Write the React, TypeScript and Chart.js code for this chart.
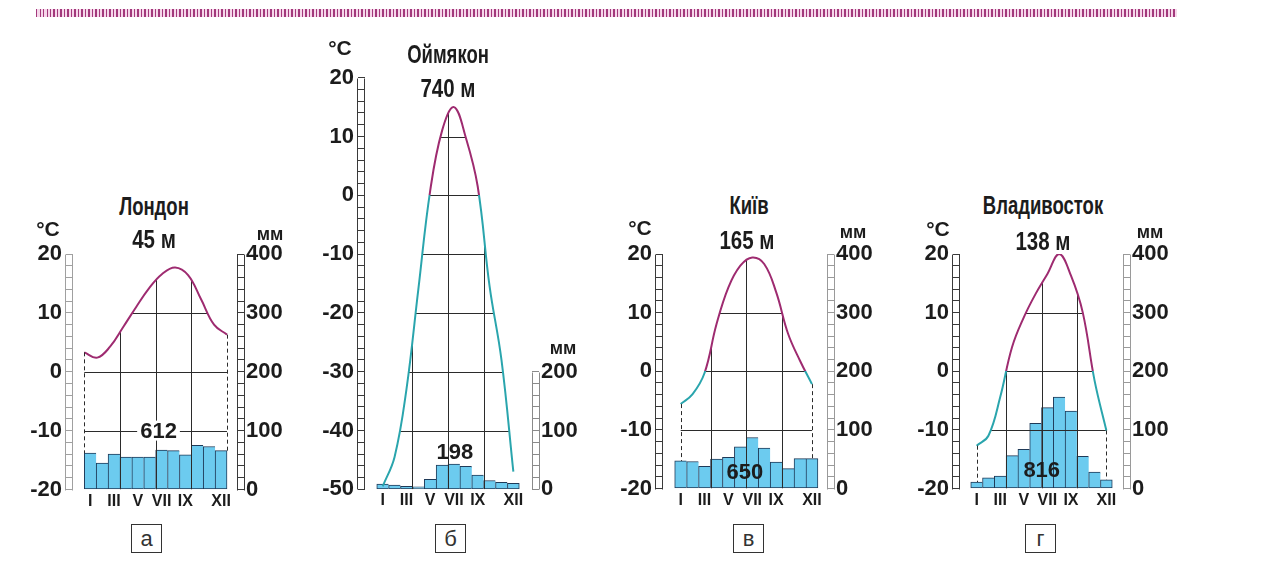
import React, { useEffect, useRef } from "react";
import { Chart, registerables } from "chart.js";

Chart.register(...registerables);

// ---------- data ----------
const MONTH_LABELS = ["I", "II", "III", "IV", "V", "VI", "VII", "VIII", "IX", "X", "XI", "XII"];
const MONTHS = [0, 1, 2, 3, 4, 5, 6, 7, 8, 9, 10, 11];
const LABELED_MONTHS = [0, 2, 4, 6, 8, 11];
const SEASON_BOUNDARIES = [2.5, 5.5, 8.5];

const LONDON_TEMP = [3.3, 2.4, 4.3, 7.6, 11, 14.2, 16.6, 17.7, 16.4, 12.3, 8, 6.3];
const LONDON_PRECIP = [62, 45, 60, 55, 55, 55, 67, 66, 59, 75, 73, 66];

const OYMYAKON_TEMP = [-49.5, -44.5, -33, -16, 0.8, 11, 15, 9.8, 1.5, -15.5, -28, -47];
const OYMYAKON_PRECIP = [9, 7, 5, 4, 17, 41, 43, 39, 24, 15, 12, 10];

const KYIV_TEMP = [-5.6, -3.9, -0.3, 8, 14.3, 18, 19.4, 18.3, 13.5, 6.4, 1.8, -2.2];
const KYIV_PRECIP = [47, 46, 38, 50, 53, 71, 87, 69, 45, 34, 51, 51];

const VLAD_TEMP = [-12.7, -11, -4.4, 4.1, 9.2, 13.2, 16.6, 20, 16.3, 10, -1.6, -10.1];
const VLAD_PRECIP = [11, 18, 21, 56, 67, 111, 138, 156, 132, 55, 28, 15];

// ---------- styles ----------
const FONT_SANS = '"Liberation Sans", Arial, sans-serif';
const TEXT = "#1c1c1c";
const WARM = "#9e2b70";
const COLD = "#2aa5ad";
const BAR_FILL = "#6ccbef";
const BAR_EDGE = "#1f3a58";
const GRID = "#2b2b2b";

type Box = { left: number; top: number; width: number; height: number };
type Station = {
  key: string;
  name: string;
  elevation: string;
  letter: string;
  total: string;
  temp: number[];
  precip: number[];
  tMin: number;
  tMax: number;
  mmLadderMax: number;
  curve: "edges" | "centers";
  dashed: boolean;
  canvas: Box;
  area: { left: number; right: number; top: number; bottom: number };
  padL: number;
  padR: number;
  totalPos: { x: number; t: number; bg: boolean };
  namePos: [number, number];
  elevPos: [number, number];
  degPos: [number, number];
  mmPos: [number, number];
  letterPos: [number, number];
  ladderColors: [string, string];
};

const STATIONS: Station[] = [
  {
    key: "london",
    name: "Лондон",
    elevation: "45 м",
    letter: "а",
    total: "612",
    temp: LONDON_TEMP,
    precip: LONDON_PRECIP,
    tMin: -20,
    tMax: 20,
    mmLadderMax: 400,
    curve: "edges",
    dashed: true,
    canvas: { left: 16, top: 226, width: 294, height: 296 },
    area: { left: 73, right: 237, top: 254, bottom: 489.5 },
    padL: 0.95,
    padR: 0.84,
    totalPos: { x: 5.74, t: -10, bg: true },
    namePos: [154, 206],
    elevPos: [154, 239],
    degPos: [48, 228],
    mmPos: [270, 234],
    letterPos: [147, 539],
    ladderColors: ["#a0a0a0", "#3a3a3a"],
  },
  {
    key: "oymyakon",
    name: "Оймякон",
    elevation: "740 м",
    letter: "б",
    total: "198",
    temp: OYMYAKON_TEMP,
    precip: OYMYAKON_PRECIP,
    tMin: -50,
    tMax: 20,
    mmLadderMax: 200,
    curve: "centers",
    dashed: false,
    canvas: { left: 312, top: 50, width: 290, height: 472 },
    area: { left: 365, right: 532, top: 77.7, bottom: 489.3 },
    padL: 0.99,
    padR: 1.07,
    totalPos: { x: 6.08, t: -43.7, bg: false },
    namePos: [448, 54],
    elevPos: [448, 88],
    degPos: [340, 47],
    mmPos: [563, 348],
    letterPos: [451, 539],
    ladderColors: ["#3a3a3a", "#8a8a8a"],
  },
  {
    key: "kyiv",
    name: "Київ",
    elevation: "165 м",
    letter: "в",
    total: "650",
    temp: KYIV_TEMP,
    precip: KYIV_PRECIP,
    tMin: -20,
    tMax: 20,
    mmLadderMax: 400,
    curve: "centers",
    dashed: true,
    canvas: { left: 606, top: 226, width: 290, height: 296 },
    area: { left: 663, right: 827, top: 254, bottom: 488.5 },
    padL: 0.98,
    padR: 0.76,
    totalPos: { x: 5.38, t: -17.2, bg: false },
    namePos: [749, 205],
    elevPos: [747, 240],
    degPos: [640, 227],
    mmPos: [853, 232],
    letterPos: [749, 539],
    ladderColors: ["#3a3a3a", "#9a9a9a"],
  },
  {
    key: "vladivostok",
    name: "Владивосток",
    elevation: "138 м",
    letter: "г",
    total: "816",
    temp: VLAD_TEMP,
    precip: VLAD_PRECIP,
    tMin: -20,
    tMax: 20,
    mmLadderMax: 400,
    curve: "centers",
    dashed: true,
    canvas: { left: 900, top: 226, width: 300, height: 296 },
    area: { left: 960, right: 1123, top: 254, bottom: 488.5 },
    padL: 0.91,
    padR: 0.91,
    totalPos: { x: 5.52, t: -16.9, bg: false },
    namePos: [1043, 205],
    elevPos: [1043, 241],
    degPos: [938, 228],
    mmPos: [1150, 232],
    letterPos: [1041, 539],
    ladderColors: ["#3a3a3a", "#9a9a9a"],
  },
];

function range(a: number, b: number, step: number): number[] {
  const out: number[] = [];
  for (let v = a; v <= b + 1e-9; v += step) out.push(Math.round(v * 1000) / 1000);
  return out;
}

function ClimateChart({ s }: { s: Station }) {
  const ref = useRef<HTMLCanvasElement>(null);

  useEffect(() => {
    if (!ref.current) return;
    const c = s.canvas;
    const a = s.area;
    const xMin = -0.5 - s.padL;
    const xMax = 11.5 + s.padR;
    const xcMin = s.curve === "edges" ? ((xMin + 0.5) * 11) / 12 : xMin;
    const xcMax = s.curve === "edges" ? ((xMax + 0.5) * 11) / 12 : xMax;
    const mmMax = (s.tMax - s.tMin) * 10;
    const gridTemps = range(s.tMin + 10, s.tMax - 10, 10);

    const decor = {
      id: "climateDecor",
      afterDatasetDraw(chart: any, args: any) {
        if (args.index !== 0) return;
        const { ctx, chartArea, scales } = chart;
        const lineMeta = chart.getDatasetMeta(1);
        const pts = lineMeta.data;
        if (!pts || pts.length < 2) return;
        const yT = scales.y;
        const xS = scales.x;
        const bottom = yT.getPixelForValue(s.tMin);
        ctx.save();
        ctx.beginPath();
        const line = lineMeta.dataset;
        if (line && typeof line.path === "function") {
          line.path(ctx);
        } else {
          pts.forEach((p: any, i: number) => (i ? ctx.lineTo(p.x, p.y) : ctx.moveTo(p.x, p.y)));
        }
        ctx.lineTo(pts[pts.length - 1].x, bottom);
        ctx.lineTo(pts[0].x, bottom);
        ctx.closePath();
        ctx.clip();
        ctx.strokeStyle = GRID;
        ctx.lineWidth = 1;
        ctx.beginPath();
        for (const t of gridTemps) {
          const y = Math.round(yT.getPixelForValue(t)) + 0.5;
          ctx.moveTo(chartArea.left, y);
          ctx.lineTo(chartArea.right, y);
        }
        for (const b of SEASON_BOUNDARIES) {
          const x = Math.round(xS.getPixelForValue(b)) + 0.5;
          ctx.moveTo(x, chartArea.top);
          ctx.lineTo(x, bottom);
        }
        ctx.stroke();
        ctx.restore();
      },
      afterDatasetsDraw(chart: any) {
        const { ctx, scales } = chart;
        const lineMeta = chart.getDatasetMeta(1);
        const barMeta = chart.getDatasetMeta(0);
        const pts = lineMeta.data;
        const bars = barMeta.data;
        ctx.save();
        if (s.dashed) {
          ctx.strokeStyle = GRID;
          ctx.lineWidth = 1;
          ctx.setLineDash([4, 3]);
          ctx.beginPath();
          const pairs = [
            [pts[0], bars[0]],
            [pts[pts.length - 1], bars[bars.length - 1]],
          ];
          for (const [p, b] of pairs) {
            const x = Math.round(p.x) + 0.5;
            ctx.moveTo(x, p.y);
            ctx.lineTo(x, b.y);
          }
          ctx.stroke();
          ctx.setLineDash([]);
        }
        const tx = scales.x.getPixelForValue(s.totalPos.x);
        const ty = scales.y.getPixelForValue(s.totalPos.t);
        ctx.font = `bold 22px ${FONT_SANS}`;
        ctx.textAlign = "center";
        ctx.textBaseline = "middle";
        if (s.totalPos.bg) {
          const w = ctx.measureText(s.total).width;
          ctx.fillStyle = "#ffffff";
          ctx.fillRect(tx - w / 2 - 3, ty - 10, w + 6, 20);
        }
        ctx.fillStyle = TEXT;
        ctx.fillText(s.total, tx, ty + 1);
        ctx.restore();
      },
      afterDraw(chart: any) {
        const { ctx, chartArea, scales } = chart;
        const ladders = [
          { axis: "y", from: s.tMin, to: s.tMax, color: s.ladderColors[0], inner: chartArea.left, dir: -1 },
          { axis: "y2", from: 0, to: s.mmLadderMax, color: s.ladderColors[1], inner: chartArea.right, dir: 1 },
        ];
        ctx.save();
        ctx.lineWidth = 1;
        for (const L of ladders) {
          const sc = scales[L.axis];
          const y1 = Math.round(sc.getPixelForValue(L.to)) + 0.5;
          const y2 = Math.round(sc.getPixelForValue(L.from)) + 0.5;
          const xi = Math.round(L.inner) + (L.dir < 0 ? -0.5 : 0.5);
          const xo = xi + L.dir * 7;
          ctx.strokeStyle = L.color;
          ctx.beginPath();
          ctx.moveTo(xi, y1);
          ctx.lineTo(xi, y2);
          ctx.moveTo(xo, y1);
          ctx.lineTo(xo, y2);
          ctx.stroke();
        }
        ctx.restore();
      },
    };

    const tempColor = (context: any) => {
      const chart = context.chart;
      const area = chart.chartArea;
      const ys = chart.scales && chart.scales.y;
      if (!area || !ys) return WARM;
      const y0 = ys.getPixelForValue(0);
      const g = chart.ctx.createLinearGradient(0, area.top, 0, area.bottom);
      const t = Math.min(1, Math.max(0, (y0 - area.top) / (area.bottom - area.top)));
      g.addColorStop(0, WARM);
      g.addColorStop(t, WARM);
      g.addColorStop(t, COLD);
      g.addColorStop(1, COLD);
      return g;
    };

    const chart = new Chart(ref.current, {
      type: "bar",
      data: {
        datasets: [
          {
            type: "bar",
            label: "Опади, мм",
            data: MONTHS.map((m, i) => ({ x: m, y: s.precip[i] })),
            xAxisID: "x",
            yAxisID: "y2",
            backgroundColor: BAR_FILL,
            borderColor: BAR_EDGE,
            borderWidth: (ctx: any) => ({ top: 1, left: 1, bottom: 1, right: ctx.dataIndex === 11 ? 1 : 0 }),
            borderSkipped: false,
            grouped: false,
            barPercentage: 1,
            categoryPercentage: 1,
            order: 2,
          } as any,
          {
            type: "line",
            label: "Температура, °C",
            data: MONTHS.map((m, i) => ({ x: m, y: s.temp[i] })),
            xAxisID: "xc",
            yAxisID: "y",
            borderColor: tempColor,
            borderWidth: 2,
            pointRadius: 0,
            tension: 0.4,
            fill: false,
            order: 1,
          } as any,
        ],
      },
      options: {
        animation: false,
        responsive: false,
        maintainAspectRatio: false,
        layout: { padding: { top: a.top - c.top, left: 0, right: 0, bottom: 0 } },
        plugins: {
          legend: { display: false },
          tooltip: { enabled: false },
          title: { display: false },
        },
        scales: {
          x: {
            type: "linear",
            position: "bottom",
            offset: false,
            min: xMin,
            max: xMax,
            grid: { display: false, drawTicks: false },
            border: { display: false },
            afterBuildTicks: (sc: any) => {
              sc.ticks = LABELED_MONTHS.map((v) => ({ value: v }));
            },
            afterFit: (sc: any) => {
              sc.height = c.top + c.height - a.bottom;
              sc.paddingLeft = 0;
              sc.paddingRight = 0;
            },
            ticks: {
              autoSkip: false,
              maxRotation: 0,
              minRotation: 0,
              padding: 2,
              color: TEXT,
              font: { family: FONT_SANS, size: 16, weight: "bold" },
              callback: (v: any) => MONTH_LABELS[Math.round(Number(v))] ?? "",
            },
          },
          xc: { type: "linear", display: false, min: xcMin, max: xcMax, offset: false },
          y: {
            type: "linear",
            position: "left",
            min: s.tMin,
            max: s.tMax,
            afterBuildTicks: (sc: any) => {
              sc.ticks = range(s.tMin, s.tMax, 2).map((v) => ({ value: v }));
            },
            afterFit: (sc: any) => {
              sc.width = a.left - c.left;
              sc.paddingTop = 0;
              sc.paddingBottom = 0;
            },
            grid: { drawOnChartArea: false, drawTicks: true, tickLength: 7, tickColor: s.ladderColors[0], color: s.ladderColors[0] },
            border: { display: false },
            ticks: {
              autoSkip: false,
              padding: 4,
              color: TEXT,
              font: { family: FONT_SANS, size: 22, weight: "bold" },
              callback: (v: any) => (Math.round(Number(v)) % 10 === 0 ? String(v) : ""),
            },
          },
          y2: {
            type: "linear",
            position: "right",
            min: 0,
            max: mmMax,
            afterBuildTicks: (sc: any) => {
              sc.ticks = range(0, s.mmLadderMax, 20).map((v) => ({ value: v }));
            },
            afterFit: (sc: any) => {
              sc.width = c.left + c.width - a.right;
              sc.paddingTop = 0;
              sc.paddingBottom = 0;
            },
            grid: { drawOnChartArea: false, drawTicks: true, tickLength: 7, tickColor: s.ladderColors[1], color: s.ladderColors[1] },
            border: { display: false },
            ticks: {
              autoSkip: false,
              padding: 2,
              color: TEXT,
              font: { family: FONT_SANS, size: 22, weight: "bold" },
              callback: (v: any) => (Math.round(Number(v)) % 100 === 0 ? String(v) : ""),
            },
          },
        },
      } as any,
      plugins: [decor as any],
    });

    return () => chart.destroy();
  }, [s]);

  return (
    <canvas
      ref={ref}
      width={s.canvas.width}
      height={s.canvas.height}
      style={{ display: "block", width: s.canvas.width, height: s.canvas.height }}
    />
  );
}

function Text({
  x,
  y,
  children,
  size,
  weight = 700,
  squeeze = 1,
}: {
  x: number;
  y: number;
  children: React.ReactNode;
  size: number;
  weight?: number;
  squeeze?: number;
}) {
  return (
    <div
      style={{
        position: "absolute",
        left: x,
        top: y,
        transform: `translate(-50%, -50%) scaleX(${squeeze})`,
        fontFamily: FONT_SANS,
        fontSize: size,
        fontWeight: weight,
        lineHeight: 1,
        color: TEXT,
        whiteSpace: "nowrap",
      }}
    >
      {children}
    </div>
  );
}

export default function App() {
  return (
    <div
      style={{
        position: "absolute",
        left: 0,
        top: 0,
        width: 1264,
        height: 576,
        background: "#ffffff",
        overflow: "hidden",
      }}
    >
      <div
        style={{
          position: "absolute",
          left: 36,
          top: 9,
          width: 1141,
          height: 8,
          background:
            "repeating-linear-gradient(to right, #a3397c 0px, #a3397c 1.4px, #f6d7ea 1.4px, #f6d7ea 3.5px)",
        }}
      />
      {STATIONS.map((s) => (
        <React.Fragment key={s.key}>
          <div style={{ position: "absolute", left: s.canvas.left, top: s.canvas.top }}>
            <ClimateChart s={s} />
          </div>
          <Text x={s.namePos[0]} y={s.namePos[1]} size={25} squeeze={0.74}>
            {s.name}
          </Text>
          <Text x={s.elevPos[0]} y={s.elevPos[1]} size={25} squeeze={0.82}>
            {s.elevation}
          </Text>
          <Text x={s.degPos[0]} y={s.degPos[1]} size={21}>
            °C
          </Text>
          <Text x={s.mmPos[0]} y={s.mmPos[1]} size={18}>
            мм
          </Text>
          <div
            style={{
              position: "absolute",
              left: s.letterPos[0] - 16,
              top: s.letterPos[1] - 15,
              width: 31,
              height: 29,
              border: "1px solid #333",
              boxSizing: "border-box",
              display: "flex",
              alignItems: "center",
              justifyContent: "center",
              fontFamily: FONT_SANS,
              fontSize: 22,
              color: "#333",
              lineHeight: 1,
            }}
          >
            {s.letter}
          </div>
        </React.Fragment>
      ))}
    </div>
  );
}
